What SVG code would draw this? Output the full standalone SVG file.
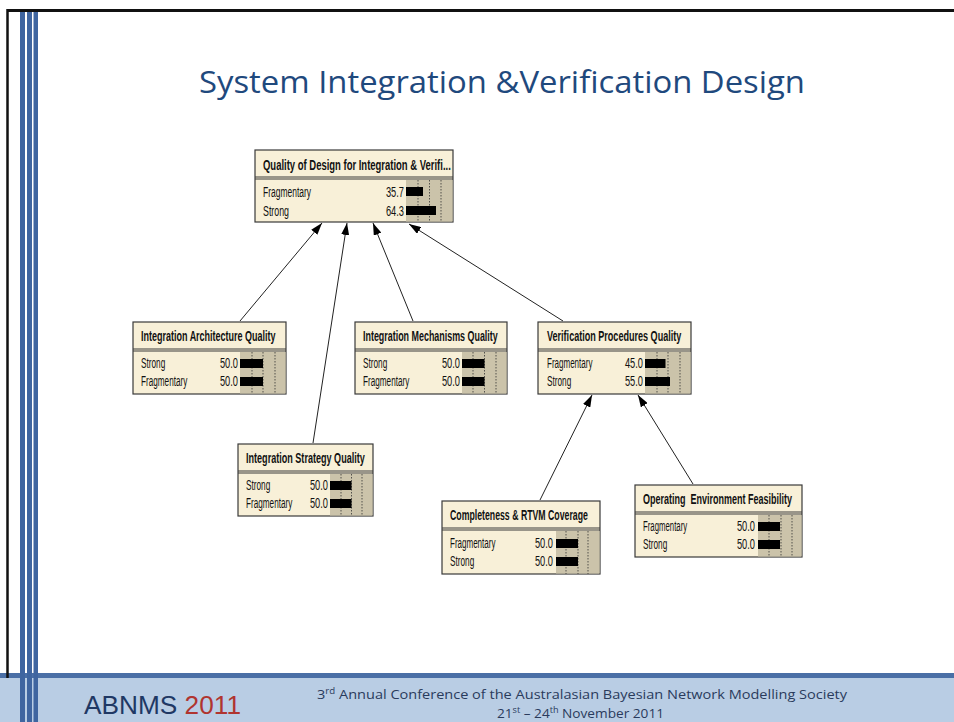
<svg xmlns="http://www.w3.org/2000/svg" width="954" height="722" viewBox="0 0 954 722">
<defs>
<style>
.frame{fill:#f8f0d8;stroke:#3a3a3a;stroke-width:1.2}
.div{stroke:#3a3a3a;stroke-width:1}
.bararea{fill:#cbc3aa;stroke:none}
.dot{stroke:#333;stroke-width:0.8;stroke-dasharray:1.5 1.5}
.bar{fill:#000}
.hdr{font-family:"Liberation Sans",Arial,sans-serif;font-size:15px;font-weight:bold;fill:#111}
.lbl{font-family:"Liberation Sans",Arial,sans-serif;font-size:15px;fill:#111}
.val{font-family:"Liberation Sans",Arial,sans-serif;font-size:15px;fill:#111;text-anchor:end}
.conn{stroke:#222;stroke-width:1;fill:none;marker-end:url(#ah)}
.stripe{fill:#3f65a0}
</style>
<marker id="ah" markerUnits="userSpaceOnUse" markerWidth="13" markerHeight="8" refX="12" refY="4" orient="auto">
<path d="M0,0 L12,4 L0,8 Z" fill="#000"/>
</marker>
</defs>
<rect x="0" y="0" width="954" height="722" fill="#fff"/>
<!-- footer -->
<rect x="0" y="678" width="954" height="44" fill="#b9cde4"/>
<rect x="0" y="673" width="954" height="5" fill="#4a6fa6"/>
<!-- frame lines -->
<line x1="7" y1="10.5" x2="954" y2="10.5" stroke="#111" stroke-width="3"/>
<line x1="7.5" y1="9" x2="7.5" y2="678" stroke="#111" stroke-width="2.5"/>
<rect class="stripe" x="20" y="12" width="5" height="710"/>
<rect class="stripe" x="27" y="12" width="5" height="710"/>
<rect class="stripe" x="33.5" y="12" width="4.5" height="710"/>
<!-- title -->
<text x="502" y="93" text-anchor="middle" font-family="'Open Sans','Noto Sans',sans-serif" font-size="31" fill="#1f497d" textLength="606" lengthAdjust="spacingAndGlyphs">System Integration &amp;Verification Design</text>
<!-- connectors -->
<g id="connectors">
<line class="conn" x1="240" y1="321" x2="322" y2="223"/>
<line class="conn" x1="313" y1="443" x2="347" y2="223"/>
<line class="conn" x1="413" y1="321" x2="373" y2="223"/>
<line class="conn" x1="563" y1="321" x2="409" y2="224"/>
<line class="conn" x1="540" y1="500" x2="592" y2="395"/>
<line class="conn" x1="693" y1="484" x2="638" y2="395"/>
</g>
<!-- nodes -->
<g id="node-top">
<rect class="frame" x="255" y="150" width="198" height="72"/>
<line class="div" x1="255" y1="177" x2="453" y2="177"/><line class="div" x1="255" y1="179" x2="453" y2="179"/>
<rect class="bararea" x="406" y="180" width="46.5" height="41.5"/>
<line class="dot" x1="418" y1="180" x2="418" y2="222"/><line class="dot" x1="429.5" y1="180" x2="429.5" y2="222"/><line class="dot" x1="441" y1="180" x2="441" y2="222"/>
<text class="hdr" transform="matrix(0.632 0 0 1 263 170)">Quality of Design for Integration &amp; Verifi...</text>
<text class="lbl" transform="matrix(0.565 0 0 1 263 197)">Fragmentary</text>
<text class="lbl" transform="matrix(0.59 0 0 1 263 216)">Strong</text>
<text class="val" transform="matrix(0.62 0 0 1 404 197)">35.7</text>
<text class="val" transform="matrix(0.62 0 0 1 404 216)">64.3</text>
<rect class="bar" x="406" y="187" width="17" height="9"/>
<rect class="bar" x="406" y="206" width="30" height="9"/>
</g>
<g id="node-arch">
<rect class="frame" x="133" y="322" width="153" height="72"/>
<line class="div" x1="133" y1="349" x2="286" y2="349"/><line class="div" x1="133" y1="351" x2="286" y2="351"/>
<rect class="bararea" x="240" y="352" width="45.5" height="41.5"/>
<line class="dot" x1="252" y1="352" x2="252" y2="394"/><line class="dot" x1="263" y1="352" x2="263" y2="394"/><line class="dot" x1="275" y1="352" x2="275" y2="394"/>
<text class="hdr" transform="matrix(0.6 0 0 1 141 341)">Integration Architecture Quality</text>
<text class="lbl" transform="matrix(0.55 0 0 1 141 368)">Strong</text>
<text class="lbl" transform="matrix(0.545 0 0 1 141 386)">Fragmentary</text>
<text class="val" transform="matrix(0.62 0 0 1 238 368)">50.0</text>
<text class="val" transform="matrix(0.62 0 0 1 238 386)">50.0</text>
<rect class="bar" x="240" y="359" width="23" height="9"/>
<rect class="bar" x="240" y="377" width="23" height="9"/>
</g>
<g id="node-mech">
<rect class="frame" x="355" y="322" width="152" height="72"/>
<line class="div" x1="355" y1="349" x2="507" y2="349"/><line class="div" x1="355" y1="351" x2="507" y2="351"/>
<rect class="bararea" x="462" y="352" width="44.5" height="41.5"/>
<line class="dot" x1="473" y1="352" x2="473" y2="394"/><line class="dot" x1="484.5" y1="352" x2="484.5" y2="394"/><line class="dot" x1="496" y1="352" x2="496" y2="394"/>
<text class="hdr" transform="matrix(0.595 0 0 1 363 341)">Integration Mechanisms Quality</text>
<text class="lbl" transform="matrix(0.55 0 0 1 363 368)">Strong</text>
<text class="lbl" transform="matrix(0.545 0 0 1 363 386)">Fragmentary</text>
<text class="val" transform="matrix(0.62 0 0 1 460 368)">50.0</text>
<text class="val" transform="matrix(0.62 0 0 1 460 386)">50.0</text>
<rect class="bar" x="462" y="359" width="22.5" height="9"/>
<rect class="bar" x="462" y="377" width="22.5" height="9"/>
</g>
<g id="node-verif">
<rect class="frame" x="538" y="322" width="153" height="72"/>
<line class="div" x1="538" y1="349" x2="691" y2="349"/><line class="div" x1="538" y1="351" x2="691" y2="351"/>
<rect class="bararea" x="645" y="352" width="45.5" height="41.5"/>
<line class="dot" x1="657" y1="352" x2="657" y2="394"/><line class="dot" x1="668" y1="352" x2="668" y2="394"/><line class="dot" x1="680" y1="352" x2="680" y2="394"/>
<text class="hdr" transform="matrix(0.604 0 0 1 547 341)">Verification Procedures Quality</text>
<text class="lbl" transform="matrix(0.535 0 0 1 547 368)">Fragmentary</text>
<text class="lbl" transform="matrix(0.55 0 0 1 547 386)">Strong</text>
<text class="val" transform="matrix(0.62 0 0 1 643 368)">45.0</text>
<text class="val" transform="matrix(0.62 0 0 1 643 386)">55.0</text>
<rect class="bar" x="645" y="359" width="20.5" height="9"/>
<rect class="bar" x="645" y="377" width="25" height="9"/>
</g>
<g id="node-strat">
<rect class="frame" x="238" y="444" width="135" height="72"/>
<line class="div" x1="238" y1="471" x2="373" y2="471"/><line class="div" x1="238" y1="473" x2="373" y2="473"/>
<rect class="bararea" x="330" y="474" width="42.5" height="41.5"/>
<line class="dot" x1="341" y1="474" x2="341" y2="516"/><line class="dot" x1="351.5" y1="474" x2="351.5" y2="516"/><line class="dot" x1="362" y1="474" x2="362" y2="516"/>
<text class="hdr" transform="matrix(0.605 0 0 1 246 463)">Integration Strategy Quality</text>
<text class="lbl" transform="matrix(0.55 0 0 1 246 490)">Strong</text>
<text class="lbl" transform="matrix(0.545 0 0 1 246 508)">Fragmentary</text>
<text class="val" transform="matrix(0.62 0 0 1 328 490)">50.0</text>
<text class="val" transform="matrix(0.62 0 0 1 328 508)">50.0</text>
<rect class="bar" x="330" y="481" width="21.5" height="9"/>
<rect class="bar" x="330" y="499" width="21.5" height="9"/>
</g>
<g id="node-compl">
<rect class="frame" x="442" y="501" width="158" height="73"/>
<line class="div" x1="442" y1="528" x2="600" y2="528"/><line class="div" x1="442" y1="530" x2="600" y2="530"/>
<rect class="bararea" x="556" y="531" width="43.5" height="42.5"/>
<line class="dot" x1="566" y1="531" x2="566" y2="574"/><line class="dot" x1="578" y1="531" x2="578" y2="574"/><line class="dot" x1="588" y1="531" x2="588" y2="574"/>
<text class="hdr" transform="matrix(0.583 0 0 1 450 520)">Completeness &amp; RTVM Coverage</text>
<text class="lbl" transform="matrix(0.535 0 0 1 450 548)">Fragmentary</text>
<text class="lbl" transform="matrix(0.55 0 0 1 450 566)">Strong</text>
<text class="val" transform="matrix(0.62 0 0 1 553 548)">50.0</text>
<text class="val" transform="matrix(0.62 0 0 1 553 566)">50.0</text>
<rect class="bar" x="556" y="539" width="22" height="9"/>
<rect class="bar" x="556" y="557" width="22" height="9"/>
</g>
<g id="node-openv">
<rect class="frame" x="635" y="485" width="167" height="72"/>
<line class="div" x1="635" y1="512" x2="802" y2="512"/><line class="div" x1="635" y1="514" x2="802" y2="514"/>
<rect class="bararea" x="758" y="515" width="43.5" height="41.5"/>
<line class="dot" x1="769" y1="515" x2="769" y2="557"/><line class="dot" x1="781" y1="515" x2="781" y2="557"/><line class="dot" x1="792" y1="515" x2="792" y2="557"/>
<text class="hdr" transform="matrix(0.6 0 0 1 643 504)">Operating&#160; Environment Feasibility</text>
<text class="lbl" transform="matrix(0.52 0 0 1 643 531)">Fragmentary</text>
<text class="lbl" transform="matrix(0.55 0 0 1 643 549)">Strong</text>
<text class="val" transform="matrix(0.62 0 0 1 755 531)">50.0</text>
<text class="val" transform="matrix(0.62 0 0 1 755 549)">50.0</text>
<rect class="bar" x="758" y="522" width="22" height="9"/>
<rect class="bar" x="758" y="540" width="22" height="9"/>
</g>
<!-- footer text -->
<text x="84" y="714" font-family="'Liberation Sans',Arial,sans-serif" font-size="25" fill="#1f3864" textLength="157" lengthAdjust="spacingAndGlyphs">ABNMS <tspan fill="#b0342f">2011</tspan></text>
<text x="317" y="699" font-family="'Open Sans','Noto Sans',sans-serif" font-size="13.5" fill="#2a3b5c" textLength="530" lengthAdjust="spacingAndGlyphs">3<tspan font-size="9" dy="-5">rd</tspan><tspan dy="5"> Annual Conference of the Australasian Bayesian Network Modelling Society</tspan></text>
<text x="497" y="718" font-family="'Open Sans','Noto Sans',sans-serif" font-size="13.5" fill="#2a3b5c" textLength="167" lengthAdjust="spacingAndGlyphs">21<tspan font-size="9" dy="-5">st</tspan><tspan dy="5"> – 24</tspan><tspan font-size="9" dy="-5">th</tspan><tspan dy="5"> November 2011</tspan></text>
</svg>
